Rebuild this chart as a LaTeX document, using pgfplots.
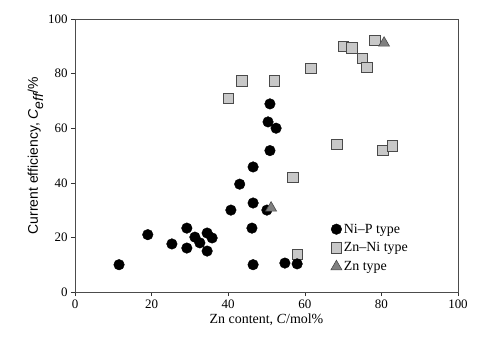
\documentclass[border=0pt]{standalone}
\usepackage{pgfplots}
\pgfplotsset{compat=1.18}
\usepackage{fontspec}
\setmainfont{Liberation Serif}
\newfontfamily\labsans{Liberation Sans}
\definecolor{sqfill}{HTML}{C8C8C8}
\definecolor{sqdraw}{HTML}{4A4A4A}
\definecolor{trfill}{HTML}{808080}
\begin{document}
\begin{tikzpicture}
\path[use as bounding box] (-75bp,-63bp) rectangle (425bp,292bp);
\begin{axis}[
  at={(0,0)}, anchor=south west,
  scale only axis, width=383bp, height=273bp,
  xmin=0, xmax=100, ymin=0, ymax=100,
  xtick={0,20,...,100}, ytick={0,20,...,100},
  xtick pos=bottom, ytick pos=left,
  tick align=outside,
  major tick length=4bp,
  axis line style={draw=black!70, line width=0.7pt},
  tick style={draw=black!80, line width=0.6pt},
  tick label style={font=\fontsize{13}{15}\selectfont},
  /pgf/number format/assume math mode=true,
  xlabel={\fontsize{14}{16}\selectfont Zn content, \textit{C}/mol\%},
  ylabel={\fontsize{14}{16}\selectfont\labsans Current efficiency, \textit{C}$_{\textit{\labsans eff}}$/\%},
  xlabel style={yshift=1bp},
  ylabel style={yshift=-2bp},
  legend style={at={(axis cs:66,26.5)}, anchor=north west, draw=none, fill=none,
    font=\fontsize{14}{16}\selectfont, row sep=4bp,
    /tikz/every even column/.append style={column sep=2bp}},
  legend cell align=left,
]
% Zn-Ni type (squares)
\addplot[only marks, mark=square*, mark size=5.2bp, mark options={fill=sqfill, draw=sqdraw, line width=0.6pt}, forget plot] coordinates {
(40.0,71.0) (43.6,77.3) (52.0,77.3) (61.6,82.0) (70.0,90.0) (72.3,89.4)
(75.0,85.7) (76.2,82.4) (78.3,92.3) (68.4,54.2) (80.4,52.0) (82.8,53.5)
(56.9,42.1) (58.0,13.9)
};
% Ni-P type (circles)
\addplot[only marks, mark=*, mark size=5.3bp, mark options={fill=black, draw=black}, forget plot] coordinates {
(11.5,10.0) (19.0,21.0) (25.3,17.6) (29.2,23.4) (29.2,16.1) (31.3,20.1)
(32.6,18.0) (34.5,21.6) (35.8,19.8) (34.5,15.0) (40.7,30.0) (43.0,39.5)
(46.5,45.8) (46.5,32.6) (46.2,23.4) (46.5,10.0) (50.1,30.0) (54.8,10.6)
(58.0,10.3) (50.9,68.9) (50.4,62.3) (52.5,60.0) (50.9,51.8)
};
% Zn type (triangles)
\addplot[only marks, mark=triangle*, mark size=6.3bp, mark options={fill=trfill, draw=sqdraw, line width=0.6pt}, forget plot] coordinates {
(80.7,91.2) (51.2,30.8)
};
\addlegendimage{only marks, mark=*, mark size=5.3bp, mark options={fill=black, draw=black}}
\addlegendentry{Ni--P type}
\addlegendimage{only marks, mark=square*, mark size=5.2bp, mark options={fill=sqfill, draw=sqdraw, line width=0.6pt}}
\addlegendentry{Zn--Ni type}
\addlegendimage{only marks, mark=triangle*, mark size=6.3bp, mark options={fill=trfill, draw=sqdraw, line width=0.6pt}}
\addlegendentry{Zn type}
\end{axis}
\end{tikzpicture}
\end{document}
